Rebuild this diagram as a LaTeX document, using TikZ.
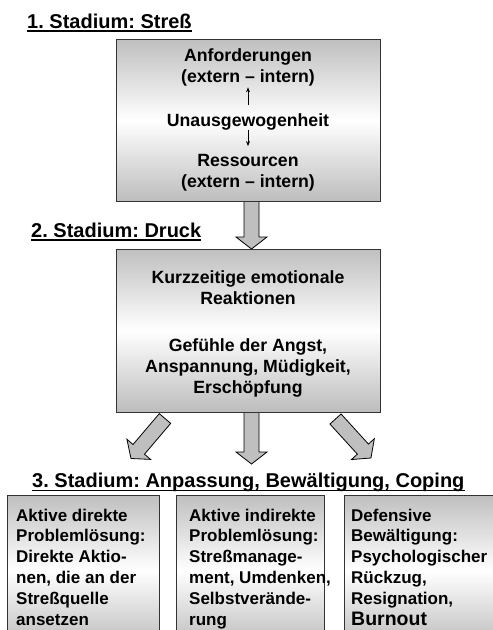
\documentclass[tikz,border=0pt]{standalone}
\usepackage{fontspec}
\setmainfont{Liberation Sans}
\usetikzlibrary{arrows.meta}
\frenchspacing
\newcommand\blockarr[3]{%
  \begin{scope}[shift={#1}, rotate=#2]
    \draw[blockarrow] (0,-7.5) -- ({#3-12},-7.5) -- ({#3-12},-15.5) -- (#3,0) -- ({#3-12},15.5) -- ({#3-12},7.5) -- (0,7.5) -- cycle;
  \end{scope}}
\begin{document}
\begin{tikzpicture}[x=1pt,y=-1pt,
  box/.style={draw=black!80, line width=0.8pt, top color=gray!50, bottom color=gray!52, middle color=white, inner sep=0},
  blockarrow/.style={fill=gray!50, draw=black, line width=0.8pt, line join=miter},
  title/.style={font=\bfseries\fontsize{20}{24}\selectfont, inner sep=0},
  uline/.style={line width=1.4pt},
  mtext/.style={font=\bfseries\fontsize{17.7}{21}\selectfont, align=center, inner sep=0},
  btext/.style={font=\bfseries\fontsize{17}{20.8}\selectfont, align=left, inner sep=0},
  smallarrow/.style={-{Stealth[length=5pt,width=4pt]}, line width=0.7pt}]
\useasboundingbox (0,0) rectangle (493,630);
\clip (0,0) rectangle (493,630);
\fill[white] (0,0) rectangle (493,630);

% block arrows (drawn first, under the boxes)
\blockarr{(251.5,195)}{-90}{54}
\blockarr{(251.5,405)}{-90}{59}
\blockarr{(165,418.5)}{-130.4}{52.5}
\blockarr{(335.5,419)}{-47.7}{52.7}

% titles
\node[title, anchor=base west] (t1) at (27,28) {1. Stadium: Streß};
\draw[uline] ([yshift=-3pt]t1.base west) -- ([yshift=-3pt]t1.base east);
\node[title, anchor=base west] (t2) at (31,237) {2. Stadium: Druck};
\draw[uline] ([yshift=-3pt]t2.base west) -- ([yshift=-3pt]t2.base east);
\node[title, anchor=base west] (t3) at (32,487) {3. Stadium: Anpassung, Bewältigung, Coping};
\draw[uline] ([yshift=-3.5pt]t3.base west) -- ([yshift=-3.5pt]t3.base east);

% box 1
\node[box, minimum width=264pt, minimum height=162pt] (b1) at (248,120.5) {};
\node[mtext, anchor=north] (anf) at (248,48.1) {Anforderungen\\(extern – intern)};
\node[mtext, anchor=base] (unb) at (248,126) {Unausgewogenheit};
\node[mtext, anchor=north] (res) at (248,154.1) {Ressourcen\\(extern – intern)};
\draw[smallarrow] ([yshift=8pt]unb.north) -- ([yshift=-1.3pt]anf.south);
\draw[smallarrow] (unb.south) -- ([yshift=8pt]res.north);

% box 2
\node[box, minimum width=264pt, minimum height=163pt] (b2) at (248,330.5) {};
\node[mtext, anchor=north] (kurz) at (248,270.6) {Kurzzeitige emotionale\\Reaktionen};
\node[mtext, anchor=north] (gef) at (248,338.8) {Gefühle der Angst,\\Anspannung, Müdigkeit,\\Erschöpfung};

% bottom boxes
\node[box, minimum width=152pt, minimum height=150pt, anchor=north west] (c1) at (7,495) {};
\node[box, minimum width=148pt, minimum height=150pt, anchor=north west] (c2) at (176,495) {};
\node[box, minimum width=160pt, minimum height=150pt, anchor=north west] (c3) at (344,495) {};
\node[btext, anchor=north west] (c1t) at (16,508.6) {Aktive direkte\\Problemlösung:\\Direkte Aktio-\\nen, die an der\\Streßquelle\\ansetzen};
\node[btext, anchor=north west] (c2t) at (189,508.6) {Aktive indirekte\\Problemlösung:\\Streßmanage-\\ment, Umdenken,\\Selbstverände-\\rung};
\node[btext, anchor=north west] (c3t) at (351,508.6) {Defensive\\Bewältigung:\\Psychologischer\\Rückzug,\\Resignation,\\{\fontsize{19.5}{20.8}\selectfont Burnout}};
\end{tikzpicture}
\end{document}
